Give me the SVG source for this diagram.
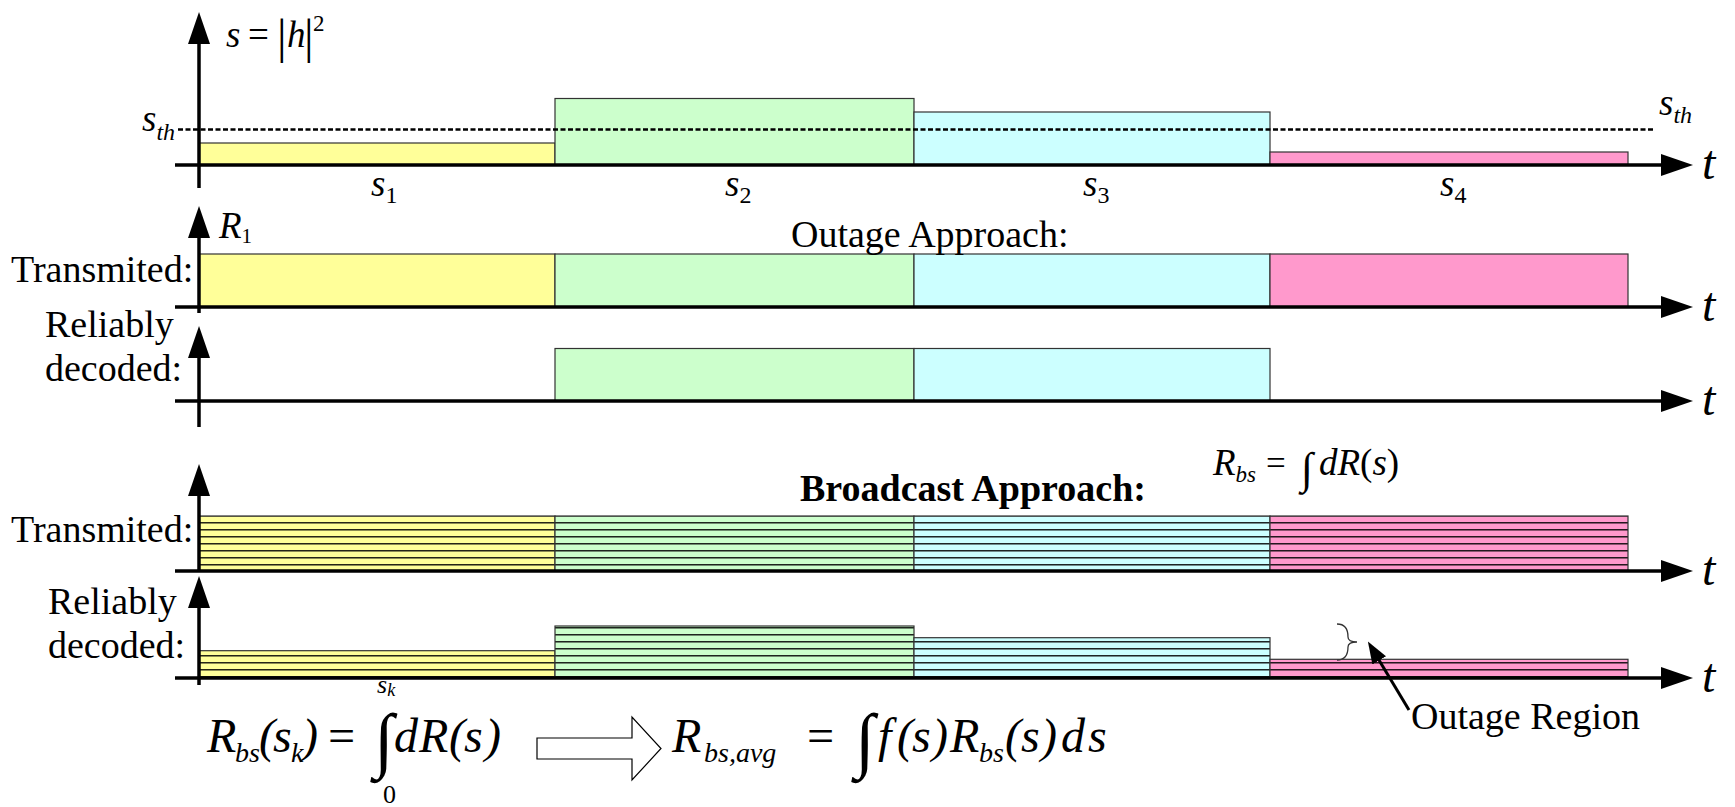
<svg xmlns="http://www.w3.org/2000/svg" width="1735" height="807" viewBox="0 0 1735 807">
<style>
text{font-family:"Liberation Serif","Times New Roman",serif;fill:#000}
.lbl{font-size:38px}
.b{font-weight:bold}
.it{font-style:italic}
.up{font-style:normal}
.ax{stroke:#000;stroke-width:3.5;fill:none}
.bx{stroke:#333;stroke-width:1.2}
.Y{fill:#FFFF99}.G{fill:#CCFFCC}.C{fill:#CCFFFF}.P{fill:#FF99CC}
.hY{fill:url(#hY)}.hG{fill:url(#hG)}.hC{fill:url(#hC)}.hP{fill:url(#hP)}
.t{font-size:48px;font-style:italic}
.m{font-size:37px;font-style:italic}
.sub{font-size:24px}
.big{font-size:48px;font-style:italic}
.bsub{font-size:28px;font-style:italic}
</style>
<defs>
<pattern id="hY" patternUnits="userSpaceOnUse" width="10" height="7"><rect width="10" height="7" fill="#FFFF99"/><rect y="4.15" width="10" height="1.3" fill="#000"/></pattern>
<pattern id="hG" patternUnits="userSpaceOnUse" width="10" height="7"><rect width="10" height="7" fill="#CCFFCC"/><rect y="4.15" width="10" height="1.3" fill="#000"/></pattern>
<pattern id="hC" patternUnits="userSpaceOnUse" width="10" height="7"><rect width="10" height="7" fill="#CCFFFF"/><rect y="4.15" width="10" height="1.3" fill="#000"/></pattern>
<pattern id="hP" patternUnits="userSpaceOnUse" width="10" height="7"><rect width="10" height="7" fill="#FF99CC"/><rect y="4.15" width="10" height="1.3" fill="#000"/></pattern>
<marker id="ah" markerUnits="userSpaceOnUse" markerWidth="32" markerHeight="22" viewBox="0 0 32 22" refX="2" refY="11" orient="auto"><path d="M0,0 L32,11 L0,22 Z" fill="#000"/></marker>
<marker id="ptr" markerUnits="userSpaceOnUse" markerWidth="22" markerHeight="16" viewBox="0 0 22 16" refX="2" refY="8" orient="auto"><path d="M0,0 L22,8 L0,16 Z" fill="#000"/></marker>
</defs>
<rect width="1735" height="807" fill="#fff"/>

<g id="panel-s">
<rect class="Y bx" x="199" y="143" width="356" height="22"/>
<rect class="G bx" x="555" y="98.5" width="359" height="66.5"/>
<rect class="C bx" x="914" y="112" width="356" height="53"/>
<rect class="P bx" x="1270" y="152" width="358" height="13"/>
<line x1="178" y1="129.5" x2="1655" y2="129.5" stroke="#000" stroke-width="2.4" stroke-dasharray="5 2.5"/>
<text class="m" x="142" y="131" font-size="39">s<tspan class="sub" dy="9">th</tspan></text>
<text class="m" x="1659" y="115" font-size="39">s<tspan class="sub" dy="8">th</tspan></text>
<text class="m" x="226" y="47" font-size="41">s<tspan class="up" x="248">=</tspan><tspan class="up" x="277" y="53" font-size="48">|</tspan><tspan x="287" y="47">h</tspan><tspan class="up" x="304" y="53" font-size="48">|</tspan><tspan class="up" x="313" y="31" font-size="23">2</tspan></text>
<text class="m" x="371" y="196">s<tspan class="sub up" dy="7">1</tspan></text>
<text class="m" x="725" y="196">s<tspan class="sub up" dy="7">2</tspan></text>
<text class="m" x="1083" y="196">s<tspan class="sub up" dy="7">3</tspan></text>
<text class="m" x="1440" y="196">s<tspan class="sub up" dy="7">4</tspan></text>
<text class="t" x="1702" y="179">t</text>
</g>

<g id="panel-outage-tx">
<rect class="Y bx" x="199" y="254" width="356" height="53"/>
<rect class="G bx" x="555" y="254" width="359" height="53"/>
<rect class="C bx" x="914" y="254" width="356" height="53"/>
<rect class="P bx" x="1270" y="254" width="358" height="53"/>
<text class="m" x="219" y="238" font-size="33">R<tspan class="up" font-size="21" dy="5">1</tspan></text>
<text class="lbl" x="791" y="247">Outage Approach:</text>
<text class="lbl" x="11" y="282">Transmited:</text>
<text class="t" x="1702" y="321">t</text>
</g>

<g id="panel-outage-rx">
<rect class="G bx" x="555" y="348.5" width="359" height="52.5"/>
<rect class="C bx" x="914" y="348.5" width="356" height="52.5"/>
<text class="lbl" x="45" y="337">Reliably</text>
<text class="lbl" x="45" y="381">decoded:</text>
<text class="t" x="1702" y="415">t</text>
</g>

<g id="panel-bc-tx">
<rect class="hY bx" x="199" y="516" width="356" height="55"/>
<rect class="hG bx" x="555" y="516" width="359" height="55"/>
<rect class="hC bx" x="914" y="516" width="356" height="55"/>
<rect class="hP bx" x="1270" y="516" width="358" height="55"/>
<text class="lbl b" x="800" y="501">Broadcast Approach:</text>
<text class="lbl" x="11" y="542">Transmited:</text>
<text class="m" x="1213" y="475" font-size="35">R<tspan font-size="23" dy="7">bs</tspan></text>
<text class="up" x="1266" y="475" font-size="35">=</text>
<text class="up" x="1301" y="483" font-size="44">∫</text>
<text class="m" x="1319" y="475" font-size="35">d<tspan>R</tspan><tspan class="up">(</tspan>s<tspan class="up">)</tspan></text>
<text class="t" x="1702" y="585">t</text>
</g>

<g id="panel-bc-rx">
<rect class="hY bx" x="199" y="650.7" width="356" height="27.3"/>
<rect class="hG bx" x="555" y="626" width="359" height="52"/>
<rect class="hC bx" x="914" y="637.7" width="356" height="40.3"/>
<rect class="hP bx" x="1270" y="659.3" width="358" height="18.7"/>
<path d="M1337,624 C1346,624 1348,631 1348,637 C1348,641 1352,642 1357,642 C1352,642 1348,643 1348,647 C1348,653 1346,660 1337,660" fill="none" stroke="#333" stroke-width="1.3"/>
<text class="lbl" x="48" y="614">Reliably</text>
<text class="lbl" x="48" y="658">decoded:</text>
<text class="lbl" x="1411" y="729">Outage Region</text>
<text class="t" x="1702" y="692">t</text>
</g>

<g id="axes">
<line class="ax" x1="199" y1="188" x2="199" y2="42" marker-end="url(#ah)"/>
<line class="ax" x1="175" y1="165" x2="1663" y2="165" marker-end="url(#ah)"/>
<line class="ax" x1="199" y1="313" x2="199" y2="236" marker-end="url(#ah)"/>
<line class="ax" x1="175" y1="307" x2="1663" y2="307" marker-end="url(#ah)"/>
<line class="ax" x1="199" y1="427" x2="199" y2="356" marker-end="url(#ah)"/>
<line class="ax" x1="175" y1="401" x2="1663" y2="401" marker-end="url(#ah)"/>
<line class="ax" x1="199" y1="571" x2="199" y2="494" marker-end="url(#ah)"/>
<line class="ax" x1="175" y1="571" x2="1663" y2="571" marker-end="url(#ah)"/>
<line class="ax" x1="199" y1="685" x2="199" y2="606" marker-end="url(#ah)"/>
<line class="ax" x1="175" y1="678" x2="1663" y2="678" marker-end="url(#ah)"/>
</g>

<g id="connectors">
<line x1="1409" y1="710" x2="1378.2" y2="658.7" stroke="#000" stroke-width="3" marker-end="url(#ptr)"/>
<polygon points="537,738 632,738 632,717 661,748.5 632,780 632,759 537,759" fill="#fff" stroke="#000" stroke-width="1.2"/>
</g>

<g id="formula-left">
<text class="big" x="207" y="752">R</text>
<text class="bsub" x="235" y="762">bs</text>
<text class="big up" x="259" y="752">(</text>
<text class="big" x="273" y="752">s</text>
<text class="bsub" x="291" y="762">k</text>
<text class="big up" x="302" y="752">)</text>
<text class="big up" x="325" y="752">=</text>
<text class="up" x="374" y="764" font-size="72">∫</text>
<text class="it" x="377" y="693" font-size="26">s<tspan font-size="18" dy="3">k</tspan></text>
<text class="up" x="383" y="803" font-size="26">0</text>
<text class="big" x="394" y="752">d</text>
<text class="big" x="419" y="752">R</text>
<text class="big up" x="449" y="752">(</text>
<text class="big" x="464" y="752">s</text>
<text class="big up" x="485" y="752">)</text>
</g>

<g id="formula-right">
<text class="big" x="672" y="752">R</text>
<text class="bsub" x="704" y="762">bs,avg</text>
<text class="big up" x="804" y="752">=</text>
<text class="up" x="855" y="764" font-size="72">∫</text>
<text class="big" x="878" y="752">f</text>
<text class="big up" x="897" y="752">(</text>
<text class="big" x="912" y="752">s</text>
<text class="big up" x="932" y="752">)</text>
<text class="big" x="950" y="752">R</text>
<text class="bsub" x="979" y="762">bs</text>
<text class="big up" x="1005" y="752">(</text>
<text class="big" x="1021" y="752">s</text>
<text class="big up" x="1041" y="752">)</text>
<text class="big" x="1061" y="752">d</text>
<text class="big" x="1088" y="752">s</text>
</g>
</svg>
